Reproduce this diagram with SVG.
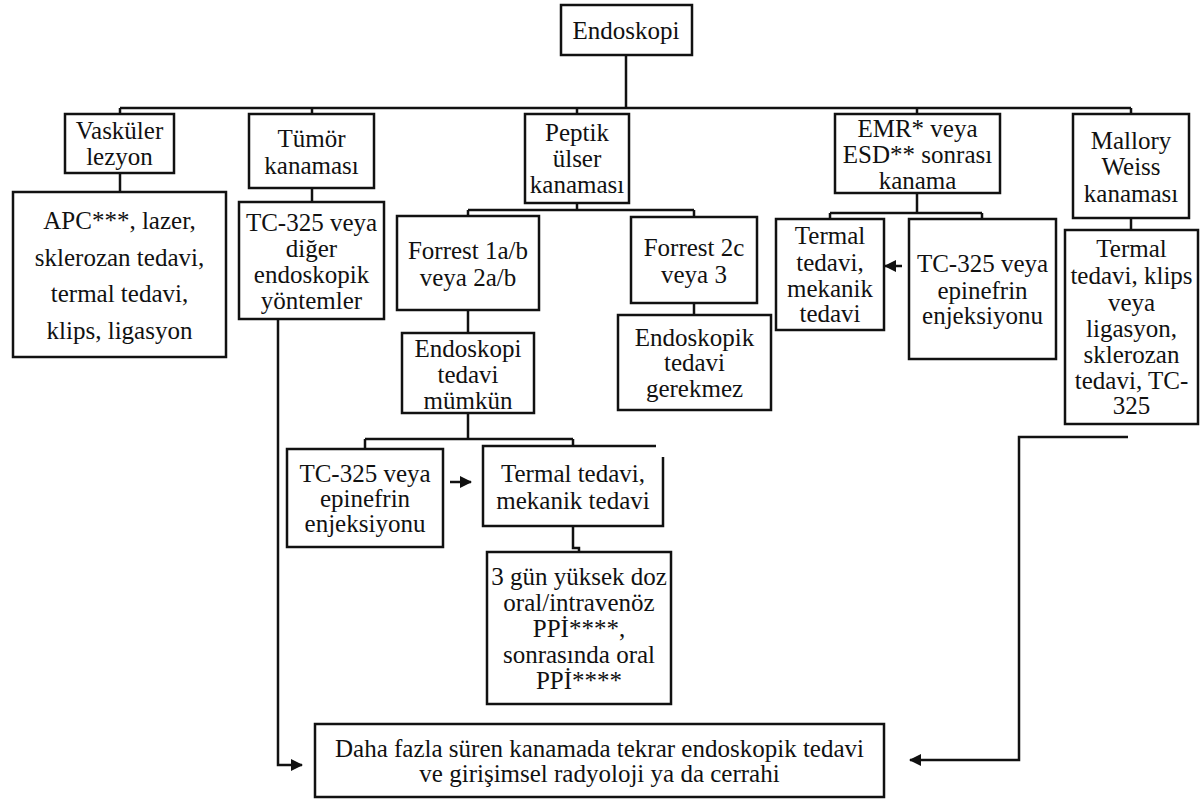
<svg xmlns="http://www.w3.org/2000/svg" width="1201" height="799" viewBox="0 0 1201 799">
<style>
.b{fill:#fff;stroke:#111;stroke-width:2.5}
.c{fill:none;stroke:#111;stroke-width:2.5}
.t{font-family:'Liberation Serif','Times New Roman',Tinos,'DejaVu Serif',serif;font-size:25px;fill:#111;text-anchor:middle}
</style>
<defs>
<marker id="ah" markerUnits="userSpaceOnUse" markerWidth="12" markerHeight="12" refX="11" refY="6" orient="auto">
<path d="M0,0 L12,6 L0,12 z" fill="#111"/>
</marker>
</defs>
<rect width="1201" height="799" fill="#fff"/>
<g id="connectors">
<path class="c" d="M626 55 V108 M120 108 H1131 M120 108 V114 M312 108 V114 M577 108 V114 M917 108 V114 M1131 108 V114"/>
<path class="c" d="M120 173 V192"/>
<path class="c" d="M312 188 V202"/>
<path class="c" d="M577 203 V210 M468 210 H694 M468 210 V216 M694 210 V217"/>
<path class="c" d="M468 310 V333"/>
<path class="c" d="M694 303 V315"/>
<path class="c" d="M468 413 V439 M365 439 H573 M365 439 V449 M573 439 V446"/>
<path class="c" d="M573 526 V548 H579 V552"/>
<path class="c" d="M917 193 V213 M830 213 H982 M830 213 V219 M982 213 V219"/>
<path class="c" d="M1131 218 V230"/>
<path class="c" d="M450 482 H471" marker-end="url(#ah)"/>
<path class="c" d="M902 266 H885" marker-end="url(#ah)"/>
<path class="c" d="M278 319 V765 H302" marker-end="url(#ah)"/>
<path class="c" d="M1128 437 H1019 V760 H910" marker-end="url(#ah)"/>
</g>
<g class="t" font-family="Liberation Serif, Times New Roman, DejaVu Serif, serif">
<g id="n-endoskopi"><rect class="b" x="561" y="5" width="131" height="50"/><text x="626" y="39">Endoskopi</text></g>
<g id="n-vaskuler"><rect class="b" x="65" y="114" width="109" height="59"/><text x="119.5" y="139">Vasküler</text><text x="119.5" y="165">lezyon</text></g>
<g id="n-apc"><rect class="b" x="13" y="192" width="213" height="165"/><text x="119.5" y="229">APC***, lazer,</text><text x="119.5" y="266">sklerozan tedavi,</text><text x="119.5" y="302">termal tedavi,</text><text x="119.5" y="339">klips, ligasyon</text></g>
<g id="n-tumor"><rect class="b" x="249" y="114" width="125" height="74"/><text x="311.5" y="147">Tümör</text><text x="311.5" y="174">kanaması</text></g>
<g id="n-tc325a"><rect class="b" x="239" y="202" width="145" height="117"/><text x="311.5" y="231">TC-325 veya</text><text x="311.5" y="257">diğer</text><text x="311.5" y="283">endoskopik</text><text x="311.5" y="309">yöntemler</text></g>
<g id="n-peptik"><rect class="b" x="525" y="114" width="104" height="89"/><text x="577" y="141">Peptik</text><text x="577" y="167">ülser</text><text x="577" y="193">kanaması</text></g>
<g id="n-forrest1"><rect class="b" x="397" y="216" width="142" height="94"/><text x="468" y="259">Forrest 1a/b</text><text x="468" y="286">veya 2a/b</text></g>
<g id="n-mumkun"><rect class="b" x="402" y="333" width="132" height="80"/><text x="468" y="357">Endoskopi</text><text x="468" y="383">tedavi</text><text x="468" y="409">mümkün</text></g>
<g id="n-tc325b"><rect class="b" x="287" y="449" width="156" height="98"/><text x="365" y="482">TC-325 veya</text><text x="365" y="507">epinefrin</text><text x="365" y="532">enjeksiyonu</text></g>
<g id="n-termal1"><path class="b" d="M656 446 H483 V526 H663 V457"/><text x="573" y="482">Termal tedavi,</text><text x="573" y="509">mekanik tedavi</text></g>
<g id="n-ppi"><rect class="b" x="487" y="552" width="184" height="152"/><text x="579" y="585">3 gün yüksek doz</text><text x="579" y="611">oral/intravenöz</text><text x="579" y="637">PPİ****,</text><text x="579" y="663">sonrasında oral</text><text x="579" y="689">PPİ****</text></g>
<g id="n-forrest2"><rect class="b" x="631" y="217" width="126" height="86"/><text x="694" y="256">Forrest 2c</text><text x="694" y="283">veya 3</text></g>
<g id="n-gerekmez"><rect class="b" x="618" y="315" width="153" height="95"/><text x="694.5" y="346">Endoskopik</text><text x="694.5" y="371">tedavi</text><text x="694.5" y="397">gerekmez</text></g>
<g id="n-emr"><rect class="b" x="835" y="114" width="165" height="79"/><text x="917.5" y="137">EMR* veya</text><text x="917.5" y="163">ESD** sonrası</text><text x="917.5" y="189">kanama</text></g>
<g id="n-termal2"><rect class="b" x="776" y="219" width="108" height="111"/><text x="830" y="244">Termal</text><text x="830" y="271">tedavi,</text><text x="830" y="297">mekanik</text><text x="830" y="322">tedavi</text></g>
<g id="n-tc325c"><rect class="b" x="909" y="219" width="147" height="140"/><text x="982.5" y="272">TC-325 veya</text><text x="982.5" y="299">epinefrin</text><text x="982.5" y="324">enjeksiyonu</text></g>
<g id="n-mallory"><rect class="b" x="1073" y="114" width="116" height="104"/><text x="1131" y="149">Mallory</text><text x="1131" y="175">Weiss</text><text x="1131" y="202">kanaması</text></g>
<g id="n-mallory-tx"><rect class="b" x="1065" y="230" width="133" height="194"/><text x="1131.5" y="257">Termal</text><text x="1131.5" y="284">tedavi, klips</text><text x="1131.5" y="311">veya</text><text x="1131.5" y="337">ligasyon,</text><text x="1131.5" y="363">sklerozan</text><text x="1131.5" y="389">tedavi, TC-</text><text x="1131.5" y="414">325</text></g>
<g id="n-final"><rect class="b" x="315" y="724" width="569" height="73"/><text x="599.5" y="757">Daha fazla süren kanamada tekrar endoskopik tedavi</text><text x="599.5" y="782">ve girişimsel radyoloji ya da cerrahi</text></g>
</g>
</svg>
